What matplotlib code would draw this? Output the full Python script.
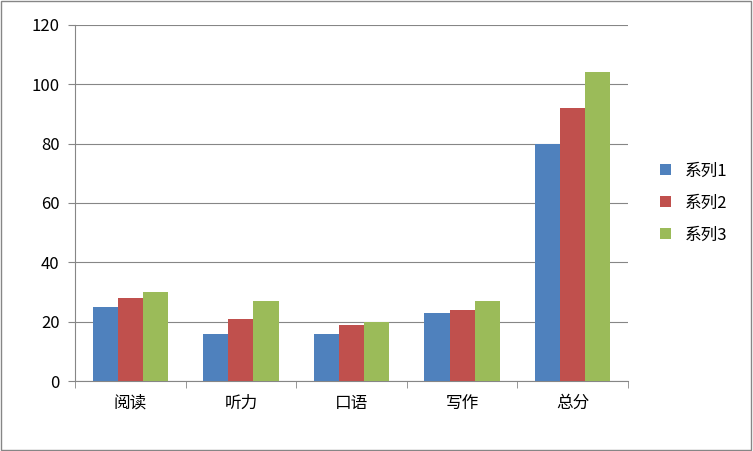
import numpy as np
import matplotlib.pyplot as plt
from matplotlib.patches import Rectangle

plt.rcParams['font.family'] = ['Noto Sans CJK SC', 'DejaVu Sans']

categories = ['阅读', '听力', '口语', '写作', '总分']
series1 = [25, 16, 16, 23, 80]
series2 = [28, 21, 19, 24, 92]
series3 = [30, 27, 20, 27, 104]
names = ['系列1', '系列2', '系列3']
colors = ['#4F81BD', '#C0504D', '#9BBB59']

fig = plt.figure(figsize=(7.53, 4.51), dpi=100)
fig.patches.append(Rectangle((0.001, 0.002), 0.997, 0.995, transform=fig.transFigure,
                             fill=False, edgecolor='#868686', linewidth=1))
ax = fig.add_axes([0.0996, 0.155, 0.7344, 0.79])

x = np.arange(len(categories))
w = 0.227
for i, (vals, name, c) in enumerate(zip([series1, series2, series3], names, colors)):
    ax.bar(x + (i - 1) * w, vals, w, color=c, label=name, zorder=3)

ax.set_xlim(-0.5, 4.5)
ax.set_ylim(0, 120)
ax.set_yticks(range(0, 121, 20))
ax.grid(axis='y', color='#868686', linewidth=0.8, zorder=0)
ax.set_xticks(x)
ax.set_xticklabels(categories, fontsize=12)
ax.set_xticks(np.arange(-0.5, 5, 1), minor=True)
ax.tick_params(axis='x', which='major', length=0, pad=10)
ax.tick_params(axis='x', which='minor', length=5, color='#868686')
ax.tick_params(axis='y', labelsize=12, length=5, color='#868686', pad=6)
for s in ['top', 'right']:
    ax.spines[s].set_visible(False)
for s in ['left', 'bottom']:
    ax.spines[s].set_color('#868686')

ax.legend(loc='center left', bbox_to_anchor=(1.03, 0.5), frameon=False,
          fontsize=12, handlelength=0.7, handleheight=0.7, labelspacing=0.9)

fig.savefig('out.png', dpi=100)
